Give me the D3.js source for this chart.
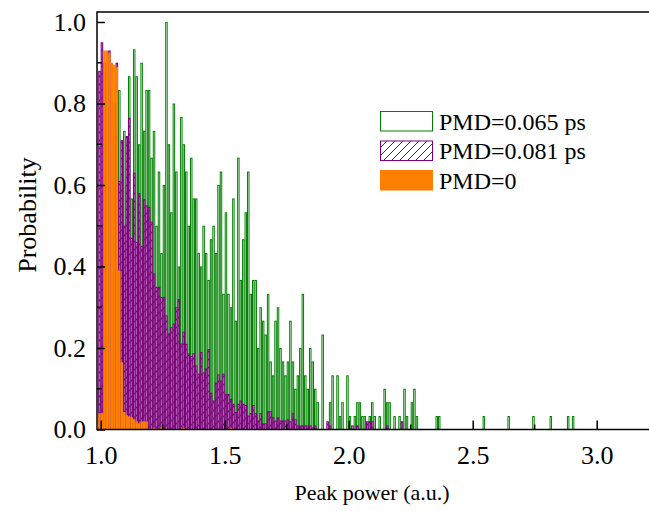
<!DOCTYPE html>
<html>
<head>
<meta charset="utf-8">
<script src="https://cdn.jsdelivr.net/npm/d3@7"></script>
<style>
  html, body { margin: 0; padding: 0; background: #fff; }
  svg { display: block; font-family: "Liberation Serif", "Times New Roman", serif; }
</style>
</head>
<body>
<svg id="chart" width="649" height="511"></svg>
<script>
// ---------------- data ----------------
const binStart = 0.99;   // left edge of first bin
const binWidth = 0.01;

// PMD = 0.065 ps (green outline)
const greenValues = [
  0.1, 0.5, 0.6, 0.7, 0.5, 0.6, 0.7, 0.6, 0.833, 0.6,
  0.733, 0.6, 0.867, 0.567, 0.933, 0.867, 0.7, 0.9, 0.733, 0.833,
  0.833, 0.667, 0.733, 0.5, 0.633, 0.433, 0.6, 1.0, 0.7, 0.533,
  0.8, 0.633, 0.4, 0.767, 0.7, 0.633, 0.5, 0.667, 0.567, 0.567,
  0.433, 0.4, 0.5, 0.433, 0.367, 0.467, 0.5, 0.433, 0.6, 0.633,
  0.333, 0.533, 0.333, 0.3, 0.567, 0.267, 0.667, 0.367, 0.467, 0.533,
  0.633, 0.333, 0.367, 0.367, 0.2, 0.3, 0.267, 0.233, 0.333, 0.167,
  0.133, 0.267, 0.3, 0.2, 0.167, 0.133, 0.167, 0.267, 0.167, 0.1,
  0.133, 0.2, 0.333, 0.133, 0.1, 0.2, 0.167, 0.1, 0.067, 0,
  0.233, 0, 0, 0.067, 0.133, 0, 0.133, 0.033, 0.067, 0,
  0.133, 0.033, 0, 0.033, 0.067, 0.067, 0.033, 0.033, 0, 0.033,
  0.067, 0.033, 0, 0.033, 0, 0.1, 0.067, 0.067, 0, 0.033,
  0, 0.033, 0, 0.1, 0.033, 0, 0.067, 0.1, 0.033, 0,
  0, 0, 0, 0, 0, 0, 0.033, 0.033, 0, 0,
  0, 0, 0, 0, 0, 0, 0, 0, 0, 0,
  0, 0, 0, 0, 0, 0.033, 0, 0, 0, 0,
  0, 0, 0, 0, 0, 0.033, 0, 0, 0, 0,
  0, 0, 0, 0, 0, 0.033, 0, 0, 0, 0,
  0, 0, 0.033, 0, 0, 0, 0, 0, 0, 0.033,
  0, 0.033
];

// PMD = 0.081 ps (purple hatched)
const purpleValues = [
  0.88, 0.95, 0.90, 0.88, 0.93, 0.84, 0.80, 0.90, 0.61, 0.71,
  0.50, 0.72, 0.765, 0.47, 0.63, 0.46, 0.58, 0.45, 0.565, 0.55,
  0.546, 0.51, 0.383, 0.35, 0.35, 0.325, 0.325, 0.28, 0.236, 0.251,
  0.26, 0.30, 0.32, 0.211, 0.24, 0.21, 0.187, 0.18, 0.187, 0.157,
  0.137, 0.19, 0.14, 0.15, 0.197, 0.09, 0.071, 0.115, 0.135, 0.12,
  0.137, 0.087, 0.087, 0.075, 0.063, 0.043, 0.063, 0.071, 0.063, 0.06,
  0.034, 0.04, 0.06, 0.04, 0.022, 0.04, 0.015, 0.015, 0.045, 0.045,
  0.03, 0.022, 0.03, 0.022, 0.022, 0.022, 0.025, 0.02, 0.04, 0.025,
  0.01, 0.01, 0.01, 0.01, 0.01, 0.01, 0.005, 0.01, 0, 0,
  0, 0, 0.02, 0.01, 0, 0, 0, 0, 0, 0,
  0, 0, 0.01, 0, 0.01, 0, 0, 0, 0.02, 0.02,
  0.02, 0, 0, 0, 0, 0, 0.01, 0, 0, 0,
  0, 0, 0.02
];

// PMD = 0 (orange solid)
const orangeValues = [
  0.04, 0.04, 0.93, 0.93, 0.923, 0.90, 0.895, 0.89, 0.39, 0.165,
  0.043, 0.035, 0.032, 0.03, 0.025, 0.02, 0.015, 0.02, 0.02, 0.02,
  0, 0, 0.004, 0, 0, 0.005, 0, 0, 0, 0,
  0, 0, 0, 0, 0.004, 0, 0, 0, 0, 0,
  0, 0, 0, 0, 0, 0, 0, 0, 0, 0,
  0, 0, 0, 0.004
];

const seriesNames = ["PMD=0.065 ps", "PMD=0.081 ps", "PMD=0"];
const xTickValues = [1.0, 1.5, 2.0, 2.5, 3.0];
const yTickValues = [0.0, 0.2, 0.4, 0.6, 0.8, 1.0];

// ---------------- layout ----------------
const svg = d3.select("#chart");
const pLeft = 97, pRight = 650, pTop = 12, pBottom = 429.5;
const x = d3.scaleLinear().domain([0.985, 3.215]).range([pLeft, pRight]);
const y = d3.scaleLinear().domain([0, 1.0245]).range([pBottom, pTop]);

const GREEN = "#008000", PURPLE = "#800080", ORANGE = "#ff8000";

const defs = svg.append("defs");
defs.append("clipPath").attr("id", "plotclip")
  .append("rect").attr("x", pLeft).attr("y", pTop).attr("width", pRight - pLeft).attr("height", pBottom - pTop);

const hatch = defs.append("pattern").attr("id", "hatch")
  .attr("patternUnits", "userSpaceOnUse").attr("width", 8).attr("height", 8);
hatch.append("rect").attr("width", 8).attr("height", 8).attr("fill", "#fff");
hatch.append("path").attr("d", "M-2,2 L2,-2 M0,8 L8,0 M6,10 L10,6")
  .attr("stroke", PURPLE).attr("stroke-width", 1);

const hatchBar = defs.append("pattern").attr("id", "hatchBar")
  .attr("patternUnits", "userSpaceOnUse").attr("width", 8).attr("height", 8);
hatchBar.append("rect").attr("width", 8).attr("height", 8).attr("fill", "#ecc6ec");
hatchBar.append("path").attr("d", "M-2,2 L2,-2 M0,8 L8,0 M6,10 L10,6")
  .attr("stroke", PURPLE).attr("stroke-width", 1.2);

const toBins = vals => vals.map((v, j) => ({
  x0: binStart + j * binWidth, x1: binStart + (j + 1) * binWidth, v
})).filter(d => d.v > 0);

const plot = svg.append("g").attr("clip-path", "url(#plotclip)");

function drawBars(vals, cls, fill, stroke, sw) {
  plot.append("g").attr("class", cls)
    .selectAll("rect").data(toBins(vals)).join("rect")
    .attr("x", d => x(d.x0) + 0.5)
    .attr("width", d => Math.max(0.5, x(d.x1) - x(d.x0) - 1))
    .attr("y", d => y(d.v) + 0.5)
    .attr("height", d => Math.max(0, y(0) - y(d.v) - 0.5))
    .attr("fill", fill)
    .attr("stroke", stroke)
    .attr("stroke-width", sw);
}
drawBars(greenValues, "green", "none", GREEN, 1);
drawBars(purpleValues, "purple", "url(#hatchBar)", PURPLE, 1.1);
plot.append("g").attr("class", "orange")
  .selectAll("rect").data(toBins(orangeValues)).join("rect")
  .attr("x", d => x(d.x0))
  .attr("width", d => x(d.x1) - x(d.x0))
  .attr("y", d => y(d.v))
  .attr("height", d => y(0) - y(d.v))
  .attr("fill", ORANGE);

// ---------------- frame & axes ----------------
svg.append("rect").attr("x", pLeft).attr("y", pTop)
  .attr("width", pRight + 10 - pLeft).attr("height", pBottom - pTop)
  .attr("fill", "none").attr("stroke", "#000").attr("stroke-width", 1.5);

const xAxis = d3.axisBottom(x).tickValues(xTickValues).tickSize(-9).tickPadding(16)
  .tickFormat(d3.format(".1f"));
const gx = svg.append("g").attr("transform", `translate(0,${pBottom})`).call(xAxis);
gx.select(".domain").remove();
gx.selectAll(".tick line").attr("stroke", "#000").attr("stroke-width", 1.5);
gx.selectAll(".tick text").attr("font-size", 26).attr("fill", "#000")
  .attr("font-family", "Liberation Serif");
const xMinor = [1.25, 1.75, 2.25, 2.75];
svg.append("g").selectAll("line").data(xMinor).join("line")
  .attr("x1", d => x(d)).attr("x2", d => x(d))
  .attr("y1", pBottom).attr("y2", pBottom - 5)
  .attr("stroke", "#000").attr("stroke-width", 1.5);

const yAxis = d3.axisLeft(y).tickValues(yTickValues).tickSize(-8).tickPadding(11)
  .tickFormat(d3.format(".1f"));
const gy = svg.append("g").attr("transform", `translate(${pLeft},0)`).call(yAxis);
gy.select(".domain").remove();
gy.selectAll(".tick line").attr("stroke", "#000").attr("stroke-width", 1.5);
gy.selectAll(".tick text").attr("font-size", 26).attr("fill", "#000")
  .attr("font-family", "Liberation Serif");
const yMinor = [0.1, 0.3, 0.5, 0.7, 0.9];
svg.append("g").selectAll("line").data(yMinor).join("line")
  .attr("x1", pLeft).attr("x2", pLeft + 5)
  .attr("y1", d => y(d)).attr("y2", d => y(d))
  .attr("stroke", "#000").attr("stroke-width", 1.5);

svg.append("text").attr("x", 372).attr("y", 500).attr("text-anchor", "middle")
  .attr("font-size", 22).text("Peak power (a.u.)");
svg.append("text").attr("transform", "translate(36,215) rotate(-90)")
  .attr("text-anchor", "middle").attr("font-size", 26).text("Probability");

// ---------------- legend ----------------
const legend = svg.append("g");
const legendFills = ["#fff", "url(#hatch)", ORANGE];
const legendStrokes = [GREEN, PURPLE, ORANGE];
seriesNames.forEach((name, i) => {
  const ly = 111.5 + i * 29.5;
  legend.append("rect").attr("x", 380.5).attr("y", ly).attr("width", 52).attr("height", 19.5)
    .attr("fill", legendFills[i]).attr("stroke", legendStrokes[i]).attr("stroke-width", 1);
  legend.append("text").attr("x", 439).attr("y", ly + 18).attr("font-size", 24).text(name);
});
</script>
</body>
</html>
